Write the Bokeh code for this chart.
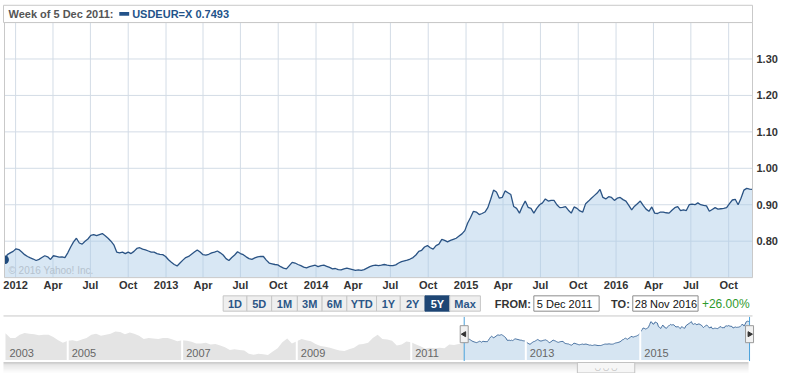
import math
import pandas as pd
from bokeh.plotting import figure
from bokeh.models import Range1d
from bokeh.embed import file_html
from bokeh.resources import INLINE
from bokeh.core.properties import value

# ---------------- data ----------------
header_text = "Week of 5 Dec 2011:"
series_label = "USDEUR=X 0.7493"
copyright_text = "\u00a9 2016 Yahoo! Inc."

start_date = "2011-12-05"   # weekly closes, USD -> EUR
weekly_usdeur = [
    0.749, 0.763, 0.768, 0.772, 0.779, 0.777, 0.770, 0.763, 0.758, 0.754,
    0.751, 0.747, 0.750, 0.755, 0.760, 0.757, 0.750, 0.760, 0.758, 0.756,
    0.757, 0.755, 0.768, 0.784, 0.798, 0.808, 0.795, 0.792, 0.800, 0.806,
    0.816, 0.818, 0.815, 0.818, 0.821, 0.815, 0.808, 0.800, 0.790, 0.770,
    0.768, 0.770, 0.766, 0.770, 0.766, 0.772, 0.780, 0.782, 0.778, 0.776,
    0.773, 0.770, 0.770, 0.766, 0.764, 0.763, 0.758, 0.749, 0.742, 0.736,
    0.732, 0.740, 0.748, 0.755, 0.758, 0.764, 0.770, 0.776, 0.770, 0.763,
    0.762, 0.764, 0.768, 0.770, 0.773, 0.768, 0.762, 0.752, 0.747, 0.755,
    0.762, 0.771, 0.766, 0.763, 0.757, 0.752, 0.750, 0.754, 0.757, 0.758,
    0.758, 0.748, 0.740, 0.738, 0.736, 0.735, 0.730, 0.726, 0.724, 0.733,
    0.742, 0.740, 0.736, 0.733, 0.729, 0.727, 0.730, 0.732, 0.734, 0.730,
    0.733, 0.734, 0.731, 0.728, 0.724, 0.725, 0.722, 0.721, 0.724, 0.726,
    0.724, 0.722, 0.720, 0.721, 0.720, 0.722, 0.726, 0.730, 0.733, 0.734,
    0.733, 0.734, 0.736, 0.734, 0.733, 0.733, 0.735, 0.740, 0.744, 0.746,
    0.748, 0.751, 0.755, 0.762, 0.772, 0.775, 0.784, 0.788, 0.782, 0.778,
    0.788, 0.792, 0.805, 0.802, 0.798, 0.802, 0.805, 0.808, 0.814, 0.820,
    0.829, 0.850, 0.865, 0.882, 0.880, 0.873, 0.876, 0.880, 0.892, 0.915,
    0.940, 0.935, 0.918, 0.920, 0.938, 0.933, 0.928, 0.895, 0.890, 0.877,
    0.895, 0.910, 0.893, 0.890, 0.877, 0.890, 0.900, 0.905, 0.916, 0.910,
    0.912, 0.912, 0.900, 0.892, 0.893, 0.895, 0.885, 0.877, 0.894, 0.890,
    0.883, 0.880, 0.903, 0.910, 0.918, 0.925, 0.932, 0.942, 0.920, 0.916,
    0.922, 0.920, 0.912, 0.918, 0.920, 0.914, 0.910, 0.898, 0.886, 0.896,
    0.903, 0.910, 0.898, 0.888, 0.882, 0.894, 0.877, 0.876, 0.880, 0.880,
    0.878, 0.877, 0.885, 0.892, 0.895, 0.884, 0.886, 0.884, 0.900, 0.902,
    0.900, 0.905, 0.900, 0.898, 0.897, 0.882, 0.887, 0.892, 0.888, 0.889,
    0.890, 0.892, 0.903, 0.913, 0.915, 0.900, 0.918, 0.940, 0.945, 0.943,
    0.942,
]

nav_start = "2003-12-01"    # monthly history shown grey in the navigator
monthly_usdeur_hist = [
    0.833,
    0.790, 0.790, 0.820, 0.835, 0.830, 0.825, 0.815, 0.820, 0.820, 0.800, 0.770, 0.745,
    0.765, 0.770, 0.760, 0.775, 0.790, 0.820, 0.830, 0.810, 0.820, 0.830, 0.850, 0.845,
    0.825, 0.840, 0.830, 0.810, 0.780, 0.790, 0.785, 0.780, 0.790, 0.790, 0.775, 0.760,
    0.770, 0.765, 0.755, 0.740, 0.740, 0.745, 0.730, 0.735, 0.720, 0.705, 0.680, 0.685,
    0.680, 0.675, 0.645, 0.635, 0.645, 0.640, 0.633, 0.665, 0.695, 0.750, 0.785, 0.740,
    0.760, 0.780, 0.770, 0.760, 0.735, 0.715, 0.710, 0.700, 0.685, 0.675, 0.670, 0.685,
    0.700, 0.730, 0.735, 0.745, 0.790, 0.820, 0.780, 0.775, 0.765, 0.720, 0.730, 0.757,
    0.750, 0.730, 0.714, 0.690, 0.700, 0.695, 0.700, 0.695, 0.730, 0.725, 0.735,
]

x_tick_dates = ["2012-01-01", "2012-04-01", "2012-07-01", "2012-10-01",
                "2013-01-01", "2013-04-01", "2013-07-01", "2013-10-01",
                "2014-01-01", "2014-04-01", "2014-07-01", "2014-10-01",
                "2015-01-01", "2015-04-01", "2015-07-01", "2015-10-01",
                "2016-01-01", "2016-04-01", "2016-07-01", "2016-10-01"]
x_tick_labels = ["2012", "Apr", "Jul", "Oct", "2013", "Apr", "Jul", "Oct",
                 "2014", "Apr", "Jul", "Oct", "2015", "Apr", "Jul", "Oct",
                 "2016", "Apr", "Jul", "Oct"]
y_ticks = [0.80, 0.90, 1.00, 1.10, 1.20, 1.30]
y_tick_labels = ["0.80", "0.90", "1.00", "1.10", "1.20", "1.30"]
y_floor, y_ceil = 0.70, 1.40

nav_tick_dates = ["2005-01-01", "2007-01-01", "2009-01-01",
                  "2011-01-01", "2013-01-01", "2015-01-01"]
nav_tick_labels = ["2003", "2005", "2007", "2009", "2011", "2013", "2015"]
nav_floor, nav_ceil = 0.586, 0.958

range_buttons = ["1D", "5D", "1M", "3M", "6M", "YTD", "1Y", "2Y", "5Y", "Max"]
selected_button = "5Y"
from_text, to_text, change_text = "5 Dec 2011", "28 Nov 2016", "+26.00%"

# ---------------- layout helpers (pixel positions) ----------------
W, H = 778, 373
FONT = value("Liberation Sans")


def ms(d):
    return pd.Timestamp(d).value / 1e6


def fx(r):
    return 4 + (r - 6) * 748 / 756


def fy(r):
    return r * H / 389


def x_range_for(v1, f1, v2, f2):
    m = (v2 - v1) / (f2 - f1)
    return Range1d(v1 - m * f1, v1 + m * (W - f1))


def y_range_for(v1, f1, v2, f2):
    # figure y runs top->bottom (0 at top, H at bottom)
    m = (v2 - v1) / (f2 - f1)
    top = v1 - m * f1
    bottom = top + m * H
    return Range1d(bottom, top)


dates = pd.date_range(start_date, periods=len(weekly_usdeur), freq="7D")
hist_dates = list(pd.date_range(nav_start, periods=len(monthly_usdeur_hist), freq="MS")) + [dates[0]]
hist_vals = monthly_usdeur_hist + [weekly_usdeur[0]]
d0, dend = ms(dates[0]), ms(dates[-1])

p = figure(width=W, height=H, x_range=Range1d(0, W), y_range=Range1d(H, 0),
           x_axis_location=None, y_axis_location=None, min_border=0,
           toolbar_location=None, output_backend="svg", outline_line_color=None,
           background_fill_color="white", border_fill_color="white")
p.grid.visible = False
p.extra_x_ranges = {
    "t": x_range_for(d0, fx(6), dend, fx(762)),
    "nt": x_range_for(ms(nav_start), fx(7), dend, fx(759)),
}
p.extra_y_ranges = {
    "v": y_range_for(y_floor, fy(289), y_ceil, fy(23)),
    "nv": y_range_for(nav_floor, fy(375), nav_ceil, fy(333)),
}

# ---------------- header ----------------
p.quad(left=[fx(5)], right=[fx(762)], top=[fy(5)], bottom=[fy(23)],
       fill_color=None, line_color="#c9c9c9", line_width=1)
p.text(x=[fx(10)], y=[fy(14)], text=[header_text], text_font=FONT,
       text_font_style="bold", text_font_size="11px", text_color="#555555",
       text_baseline="middle")
p.quad(left=[fx(122)], right=[fx(132)], top=[fy(12)], bottom=[fy(16)],
       fill_color="#23538a", line_color=None)
p.text(x=[fx(135)], y=[fy(14)], text=[series_label], text_font=FONT,
       text_font_style="bold", text_font_size="11px", text_color="#23538a",
       text_baseline="middle")

# ---------------- main chart ----------------
tick_ms = [ms(d) for d in x_tick_dates]
grid_col = "#d3dce6"
p.segment(x0=tick_ms, x1=tick_ms, y0=[y_floor] * len(tick_ms), y1=[y_ceil] * len(tick_ms),
          line_color=grid_col, line_width=1, x_range_name="t", y_range_name="v")
p.segment(x0=[d0] * len(y_ticks), x1=[dend] * len(y_ticks), y0=y_ticks, y1=y_ticks,
          line_color=grid_col, line_width=1, x_range_name="t", y_range_name="v")
p.varea(x=dates, y1=y_floor, y2=weekly_usdeur, fill_color="#a9c9e6", fill_alpha=0.45,
        x_range_name="t", y_range_name="v")
p.line(x=dates, y=weekly_usdeur, line_color="#2a5384", line_width=1.3,
       x_range_name="t", y_range_name="v")
p.wedge(x=[dates[0]], y=[weekly_usdeur[0]], radius=4, radius_units="screen",
        start_angle=-math.pi / 2, end_angle=math.pi / 2, fill_color="#1f4a7c",
        line_color="#1f4a7c", x_range_name="t", y_range_name="v")
p.text(x=[fx(10)], y=[fy(282)], text=[copyright_text], text_font=FONT,
       text_font_size="10px", text_color="#b5c2ce", text_baseline="middle")
p.quad(left=[fx(6)], right=[fx(762)], top=[fy(23)], bottom=[fy(289)],
       fill_color=None, line_color="#c9c9c9", line_width=1)

# axis labels
p.text(x=tick_ms, y=[fy(297)] * len(tick_ms), text=x_tick_labels, text_font=FONT,
       text_font_style="bold", text_font_size="11px", text_color="#333333",
       text_align="center", text_baseline="middle", x_range_name="t")
p.text(x=[fx(766)] * len(y_ticks), y=y_ticks, text=y_tick_labels, text_font=FONT,
       text_font_style="bold", text_font_size="11px", text_color="#333333",
       text_baseline="middle", y_range_name="v")

# ---------------- range selector row ----------------
btn_edges = [227, 251, 276, 302, 327, 352, 382, 406, 431, 456, 487]
bt, bb, bm = fy(308), fy(324), fy(316)
for i, b in enumerate(range_buttons):
    l, r = fx(btn_edges[i]), fx(btn_edges[i + 1])
    sel = (b == selected_button)
    p.quad(left=[l], right=[r], top=[bt], bottom=[bb],
           fill_color="#1f4674" if sel else "#efefef",
           line_color="#1f4674" if sel else "#c6c6c6", line_width=1)
    p.text(x=[(l + r) / 2], y=[bm], text=[b], text_font=FONT,
           text_font_style="bold", text_font_size="11px",
           text_color="white" if sel else "#2b5687",
           text_align="center", text_baseline="middle")
p.text(x=[fx(538)], y=[bm], text=["FROM:"], text_font=FONT, text_font_style="bold",
       text_font_size="11px", text_color="#333333", text_align="right",
       text_baseline="middle")
p.quad(left=[fx(541)], right=[fx(607)], top=[bt], bottom=[bb],
       fill_color="white", line_color="#8c8c8c")
p.text(x=[fx(544)], y=[bm], text=[from_text], text_font=FONT,
       text_font_size="11px", text_color="#111111", text_baseline="middle")
p.text(x=[fx(638)], y=[bm], text=["TO:"], text_font=FONT, text_font_style="bold",
       text_font_size="11px", text_color="#333333", text_align="right",
       text_baseline="middle")
p.quad(left=[fx(641)], right=[fx(707)], top=[bt], bottom=[bb],
       fill_color="white", line_color="#8c8c8c")
p.text(x=[fx(643)], y=[bm], text=[to_text], text_font=FONT,
       text_font_size="11px", text_color="#111111", text_baseline="middle")
p.text(x=[fx(735)], y=[bm], text=[change_text], text_font=FONT,
       text_font_size="12px", text_color="#2e9a2e", text_align="center",
       text_baseline="middle")
p.segment(x0=[fx(5)], x1=[fx(762)], y0=[fy(329)], y1=[fy(329)], line_color="#c9c9c9",
          line_width=1)

# ---------------- navigator ----------------
p.varea(x=hist_dates, y1=nav_floor, y2=hist_vals, fill_color="#e4e4e4",
        x_range_name="nt", y_range_name="nv")
p.varea(x=dates, y1=nav_floor, y2=weekly_usdeur, fill_color="#d6e5f2",
        x_range_name="nt", y_range_name="nv")
p.line(x=dates, y=weekly_usdeur, line_color="#4a73a2", line_width=1,
       x_range_name="nt", y_range_name="nv")
nav_ms = [ms(d) for d in nav_tick_dates]
p.segment(x0=nav_ms, x1=nav_ms, y0=[fy(332)] * len(nav_ms), y1=[fy(376)] * len(nav_ms),
          line_color="white", line_width=2, x_range_name="nt")
p.text(x=[ms(nav_start)] + nav_ms, y=[fy(368)] * len(nav_tick_labels),
       text=nav_tick_labels, x_offset=4, text_font=FONT, text_font_size="11px",
       text_color="#666666", text_baseline="middle", x_range_name="nt")
p.segment(x0=[d0, dend], x1=[d0, dend], y0=[fy(330)] * 2, y1=[fy(376)] * 2,
          line_color="#49a0da", line_width=1, x_range_name="nt")
hy = fy(348)
p.rect(x=[d0, dend], y=[hy, hy], width=8, height=17, width_units="screen",
       height_units="screen", fill_color="#f2f2f2", line_color="#9a9a9a",
       x_range_name="nt")
p.scatter(x=[d0, dend], y=[hy, hy], marker="triangle", size=5,
          angle=[math.pi / 2, -math.pi / 2], fill_color="#333333",
          line_color="#333333", x_range_name="nt")

# ---------------- scrollbar ----------------
shades = ["#cdcdcd", "#d4d4d4", "#dadada", "#e0e0e0", "#e5e5e5", "#e9e9e9",
          "#ededed", "#f0f0f0", "#f3f3f3", "#f6f6f6", "#f9f9f9", "#fbfbfb"]
sb_top, sb_bot = fy(377), H
step = (sb_bot - sb_top) / len(shades)
for k, c in enumerate(shades):
    p.quad(left=[fx(5)], right=[fx(758)], top=[sb_top + k * step],
           bottom=[sb_top + (k + 1) * step], fill_color=c, line_color=None)
p.quad(left=[fx(585)], right=[fx(643)], top=[sb_top + 0.5], bottom=[H - 0.5],
       fill_color="#f6f6f6", line_color="#c2c2c2")
p.text(x=[fx(614)], y=[(sb_top + H) / 2], text=["\u25e1 \u25e1 \u25e1"],
       text_font=value("DejaVu Sans"), text_font_size="7px", text_color="#9a9a9a",
       text_align="center", text_baseline="middle")

open("out.html", "w").write(file_html(p, INLINE))
